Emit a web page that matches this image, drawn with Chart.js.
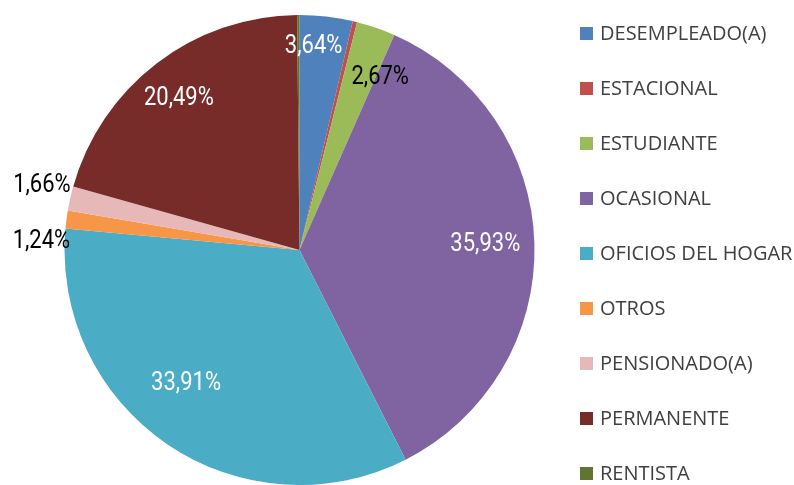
<!DOCTYPE html>
<html>
<head>
<meta charset="utf-8">
<script src="https://cdn.jsdelivr.net/npm/chart.js@4/dist/chart.umd.min.js"></script>
<style>
  html, body { margin: 0; padding: 0; background: #fff; }
  #wrap { width: 794px; height: 485px; position: relative; }
</style>
</head>
<body>
<div id="wrap"><canvas id="pie"></canvas></div>
<script>
// categories and values (percent)
const categories = ['DESEMPLEADO(A)', 'ESTACIONAL', 'ESTUDIANTE', 'OCASIONAL', 'OFICIOS DEL HOGAR',
    'OTROS', 'PENSIONADO(A)', 'PERMANENTE', 'RENTISTA'];
const shares = [3.64, 0.30, 2.67, 35.93, 33.91, 1.24, 1.66, 20.49, 0.16];
const sliceColors = ['#4F81BD', '#C0504D', '#9BBB59', '#8064A2', '#4BACC6',
    '#F79646', '#E6B9B8', '#772C2A', '#5F7530'];

// label look: [radius factor, angle shift in degrees, colour] or null for no label
const labelStyle = [
    [0.871, -2.6, '#fff'],
    null,
    [0.813, 6.0, '#000'],
    [0.791, -0.3, '#fff'],
    [0.742, 6.4, '#fff'],
    [1.099, -5.4, '#000'],
    [1.131, 1.6, '#000'],
    [0.827, -0.9, '#fff'],
    null
];

const fmt = v => v.toFixed(2).replace('.', ',') + '%';

const labelPlugin = {
    id: 'sliceLabels',
    afterDatasetsDraw(chart) {
        const ctx = chart.ctx;
        const arcs = chart.getDatasetMeta(0).data;
        const squeeze = 0.88; // narrow look of the original font
        arcs.forEach((arc, i) => {
            const st = labelStyle[i];
            if (!st) return;
            const p = arc.getProps(['x', 'y', 'startAngle', 'endAngle', 'outerRadius'], true);
            const mid = (p.startAngle + p.endAngle) / 2 + st[1] * Math.PI / 180;
            const r = p.outerRadius * st[0];
            const lx = p.x + Math.cos(mid) * r;
            const ly = p.y + Math.sin(mid) * r + 1;
            ctx.save();
            ctx.translate(lx, ly);
            ctx.scale(squeeze, 1);
            ctx.font = '25px Roboto, "Liberation Sans", sans-serif';
            ctx.textAlign = 'center';
            ctx.textBaseline = 'middle';
            ctx.fillStyle = st[2];
            ctx.fillText(fmt(shares[i]), 0, 0);
            ctx.restore();
        });
    }
};

const legendPlugin = {
    id: 'sideLegend',
    afterDraw(chart) {
        const ctx = chart.ctx;
        ctx.save();
        ctx.font = '20px "Open Sans", sans-serif';
        ctx.textBaseline = 'middle';
        categories.forEach((name, i) => {
            const y = 33 + i * 55;
            ctx.fillStyle = sliceColors[i];
            ctx.fillRect(580, y - 6, 13, 13);
            ctx.fillStyle = '#404040';
            ctx.fillText(name, 600, y + 1);
        });
        ctx.restore();
    }
};

new Chart(document.getElementById('pie'), {
    type: 'pie',
    data: {
        labels: categories,
        datasets: [{
            data: shares,
            backgroundColor: sliceColors,
            borderWidth: 0
        }]
    },
    options: {
        responsive: true,
        maintainAspectRatio: false,
        animation: false,
        layout: { padding: { top: 15, bottom: -2, left: 0, right: 195 } },
        plugins: {
            legend: { display: false },
            tooltip: { enabled: false }
        }
    },
    plugins: [labelPlugin, legendPlugin]
});
</script>
</body>
</html>
